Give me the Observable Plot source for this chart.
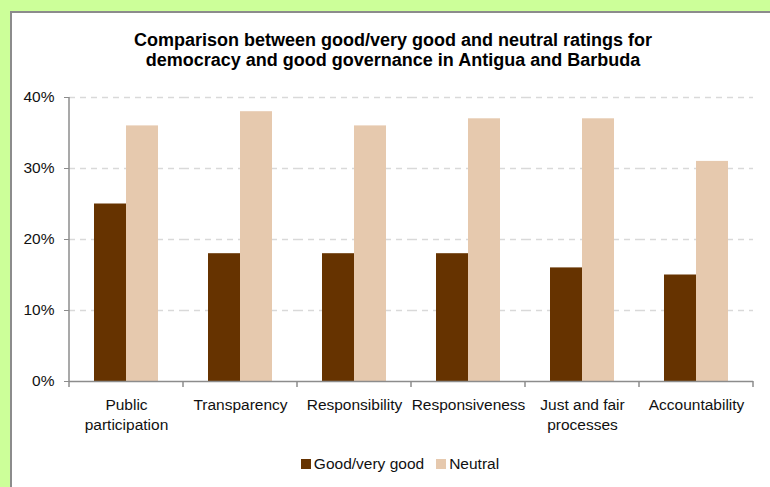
<!DOCTYPE html>
<html>
<head>
<meta charset="utf-8">
<script src="https://cdn.jsdelivr.net/npm/d3@7"></script>
<script src="https://cdn.jsdelivr.net/npm/@observablehq/plot@0.6"></script>
<style>
  html, body { margin: 0; padding: 0; }
  body { width: 770px; height: 487px; background: #ccff99; overflow: hidden; font-family: "Liberation Sans", Arial, sans-serif; position: relative; }
  #panel { position: absolute; left: 10px; top: 11px; width: 770px; height: 490px; background: #fff; border-left: 2px solid #8c8c8c; border-top: 2px solid #8c8c8c; }
  #title { position: absolute; left: 0; top: 30px; width: 786px; text-align: center; font-weight: bold; font-size: 18px; line-height: 20px; color: #000; }
  #chart { position: absolute; left: 0; top: 80px; }
  #legend { position: absolute; left: 0; top: 455px; width: 800px; text-align: center; font-size: 15.5px; color: #111; }
  #legend span.item { display: inline-flex; align-items: center; margin: 0 6px; }
  #legend span.sw { display: inline-block; width: 10px; height: 10px; margin-right: 3px; }
</style>
</head>
<body>
<div id="panel"></div>
<div id="title">Comparison between good/very good and neutral ratings for<br>democracy and good governance in Antigua and Barbuda</div>
<div id="chart"></div>
<div id="legend"></div>
<script>
const categories = ["Public participation", "Transparency", "Responsibility", "Responsiveness", "Just and fair processes", "Accountability"];
const categoryLabels = ["Public\nparticipation", "Transparency", "Responsibility", "Responsiveness", "Just and fair\nprocesses", "Accountability"];
const series = ["Good/very good", "Neutral"];
const goodValues = [0.25, 0.18, 0.18, 0.18, 0.16, 0.15];
const neutralValues = [0.36, 0.38, 0.36, 0.37, 0.37, 0.31];
const colors = ["#663300", "#e6c9ae"];
const yTicks = [0, 0.1, 0.2, 0.3, 0.4];
const gridTicks = [0.1, 0.2, 0.3, 0.4];

const data = [];
categories.forEach((c, i) => {
  data.push({category: c, series: series[0], value: goodValues[i]});
  data.push({category: c, series: series[1], value: neutralValues[i]});
});
const labelOf = new Map(categories.map((c, i) => [c, categoryLabels[i]]));

const chart = Plot.plot({
  width: 770,
  height: 370,
  marginLeft: 68,
  marginRight: 17,
  marginTop: 17,
  marginBottom: 69,
  style: {fontFamily: "'Liberation Sans', Arial, sans-serif", background: "transparent", overflow: "visible"},
  fx: {domain: categories, padding: 0, label: null},
  x: {domain: series, paddingInner: 0, paddingOuter: 0.73, axis: null},
  y: {domain: [0, 0.4], axis: null},
  color: {domain: series, range: colors},
  marks: [
    Plot.ruleY(gridTicks, {stroke: "#d9d9d9", strokeWidth: 1.3, strokeDasharray: "6,5"}),
    Plot.barY(data, {fx: "category", x: "series", y: "value", fill: "series"}),
    Plot.ruleY([0], {stroke: "#8c8c8c", strokeWidth: 1.5}),
    Plot.axisY({ticks: yTicks, tickFormat: d3.format(".0%"), tickSize: 5, tickPadding: 10, stroke: "#8c8c8c", fill: "#111", fontSize: 15.5, strokeOpacity: 1, label: null}),
    Plot.axisFx({anchor: "bottom", tickSize: 0, tickPadding: 14, tickFormat: d => labelOf.get(d), fontSize: 15.5, fill: "#111", lineHeight: 1.3, label: null})
  ]
});
document.getElementById("chart").appendChild(chart);

// Axis line and category boundary ticks, from the plot's own scales
const fx = chart.scale("fx");
const y = chart.scale("y");
const svg = d3.select(chart);
const g = svg.append("g").attr("stroke", "#8c8c8c").attr("stroke-width", 1.5);
const x0 = fx.apply(categories[0]);
g.append("line").attr("x1", x0).attr("x2", x0).attr("y1", y.apply(0) + 6).attr("y2", y.apply(0.4));
const bounds = categories.map(c => fx.apply(c)).concat([fx.apply(categories[categories.length - 1]) + fx.bandwidth]);
bounds.slice(1).forEach(b => {
  g.append("line").attr("x1", b).attr("x2", b).attr("y1", y.apply(0)).attr("y2", y.apply(0) + 6);
});

// Legend
const legend = d3.select("#legend");
series.forEach((s, i) => {
  const item = legend.append("span").attr("class", "item");
  item.append("span").attr("class", "sw").style("background", colors[i]);
  item.append("span").text(s);
});
</script>
</body>
</html>
